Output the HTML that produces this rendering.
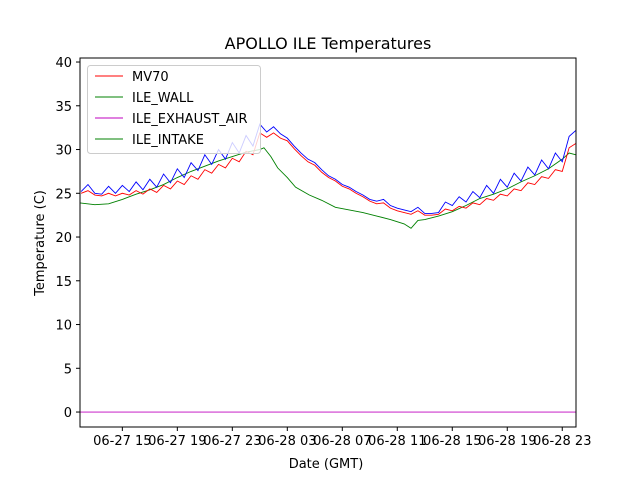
<!DOCTYPE html>
<html><head><meta charset="utf-8"><style>
body{margin:0;background:#fff}
svg{display:block;font-family:"DejaVu Sans","Liberation Sans",sans-serif}
</style></head><body>
<svg id="chart" width="640" height="480" viewBox="0 0 640 480">
<rect width="640" height="480" fill="#fff"/>
<text x="328" y="49" text-anchor="middle" font-size="16">APOLLO ILE Temperatures</text>
<text x="326" y="468" text-anchor="middle" font-size="13">Date (GMT)</text>
<text transform="translate(44,243) rotate(-90)" text-anchor="middle" font-size="13">Temperature (C)</text>
<g id="plot"></g>
<g id="axes"></g>
<g id="legend"></g>
</svg>
<script>
// hours since 06-27 00:00
const xTickHours = [15, 19, 23, 27, 31, 35, 39, 43, 47];
const xTickLabels = ["06-27 15","06-27 19","06-27 23","06-28 03","06-28 07","06-28 11","06-28 15","06-28 19","06-28 23"];
const yTicks = [0, 5, 10, 15, 20, 25, 30, 35, 40];
const blueStart = 12.0, halfStep = 0.5;
const blueValues = [25.2,26.0,25.0,24.9,25.8,25.0,25.9,25.2,26.3,25.4,26.6,25.7,27.2,26.2,27.8,26.8,28.5,27.6,29.4,28.3,30.0,28.9,30.8,29.6,31.6,30.4,32.9,32.0,32.6,31.8,31.3,30.4,29.6,28.9,28.5,27.7,27.0,26.6,26.0,25.7,25.2,24.8,24.3,24.1,24.3,23.6,23.3,23.1,22.9,23.4,22.7,22.7,22.8,24.0,23.6,24.6,24.0,25.2,24.5,25.9,25.0,26.6,25.7,27.3,26.4,28.0,27.1,28.8,27.8,29.6,28.6,31.5,32.2];
const redValues = [25.0,25.3,24.8,24.7,25.0,24.7,25.0,24.8,25.3,24.9,25.5,25.1,25.9,25.5,26.4,26.0,27.0,26.6,27.7,27.3,28.3,27.9,29.0,28.6,29.8,29.4,31.9,31.4,31.9,31.3,31.0,30.1,29.3,28.6,28.2,27.4,26.8,26.4,25.8,25.5,25.0,24.6,24.1,23.8,23.9,23.3,23.0,22.8,22.6,23.0,22.5,22.5,22.6,23.2,23.0,23.5,23.3,23.9,23.7,24.4,24.2,24.9,24.7,25.5,25.3,26.2,26.0,26.9,26.7,27.7,27.5,30.2,30.7];
const greenHours = [11.92,13,14,15,16,17,18,19,20,21,22,23,24,25,25.3,25.8,26.3,27,27.6,28.6,29.5,30.5,31.5,32.5,33.5,34.5,35.5,36,36.5,37,38,39,40,41,42,43,44,45,46,47,47.5,48];
const greenValues = [23.9,23.7,23.8,24.3,24.9,25.4,26.0,26.8,27.5,28.1,28.7,29.2,29.7,30.0,30.2,29.2,27.9,26.8,25.7,24.8,24.2,23.4,23.1,22.8,22.4,22.0,21.5,21.0,21.9,22.0,22.4,22.9,23.6,24.4,24.9,25.5,26.3,27.0,27.8,28.9,29.6,29.4];
const purpleHours = [11.92, 48];
const purpleValues = [0, 0];
const legendNames = ["MV70","ILE_WALL","ILE_EXHAUST_AIR","ILE_INTAKE"];
const legendColors = ["#ff0000","#008000","#bf00bf","#008000"];

const L=80,R=576,T=58,B=427, xmin=11.92, xmax=48.0, ymin=-1.71, ymax=40.46;
const xs=h=>L+(h-xmin)/(xmax-xmin)*(R-L);
const ys=v=>B-(v-ymin)/(ymax-ymin)*(B-T);
const NS="http://www.w3.org/2000/svg";
function mk(tag,attrs,parent){const e=document.createElementNS(NS,tag);for(const k in attrs)e.setAttribute(k,attrs[k]);parent.appendChild(e);return e;}
const plot=document.getElementById('plot'), axes=document.getElementById('axes'), legend=document.getElementById('legend');
const cp=mk('clipPath',{id:'clip'},plot);
mk('rect',{x:L,y:T,width:R-L,height:B-T},cp);
function series(hours,vals,color,name){
  const d=vals.map((v,i)=>(i?'L':'M')+xs(hours[i]).toFixed(2)+','+ys(v).toFixed(2)).join('');
  const p=mk('path',{d:d,fill:'none',stroke:color,'stroke-width':0.9,'clip-path':'url(#clip)'},plot);
  
  
}
const halfHours=blueValues.map((_,i)=>blueStart+i*halfStep);
series(purpleHours,purpleValues,'#bf00bf','ile-exhaust-air-line');
series(greenHours,greenValues,'#008000','ile-intake-line');
series(halfHours,redValues,'#ff0000','mv70-line');
series(halfHours,blueValues,'#0000ff','blue-series-line');
const fr=mk('rect',{x:L,y:T,width:R-L,height:B-T,fill:'none',stroke:'#000','stroke-width':1},axes);


xTickHours.forEach((h,i)=>{
  const x=xs(h);
  mk('line',{x1:x,x2:x,y1:B,y2:B+4,stroke:'#000'},axes);
  const t=mk('text',{x:x,y:B+18,'text-anchor':'middle','font-size':13},axes);
  t.textContent=xTickLabels[i];
  
  
});
yTicks.forEach(v=>{
  const y=ys(v);
  mk('line',{x1:L-4,x2:L,y1:y,y2:y,stroke:'#000'},axes);
  const t=mk('text',{x:L-8,y:y+5,'text-anchor':'end','font-size':13},axes);
  t.textContent=v;
  
  
});
const lb=mk('rect',{x:87.5,y:65.5,width:173,height:88,rx:3,fill:'#fff','fill-opacity':0.8,stroke:'#ccc'},legend);


legendNames.forEach((n,i)=>{
  const y=76+i*21;
  mk('line',{x1:95,x2:123,y1:y,y2:y,stroke:legendColors[i],'stroke-width':0.9},legend);
  const t=mk('text',{x:132,y:y+5,'font-size':13},legend);
  t.textContent=n;
  
  
});
</script>
</body></html>
